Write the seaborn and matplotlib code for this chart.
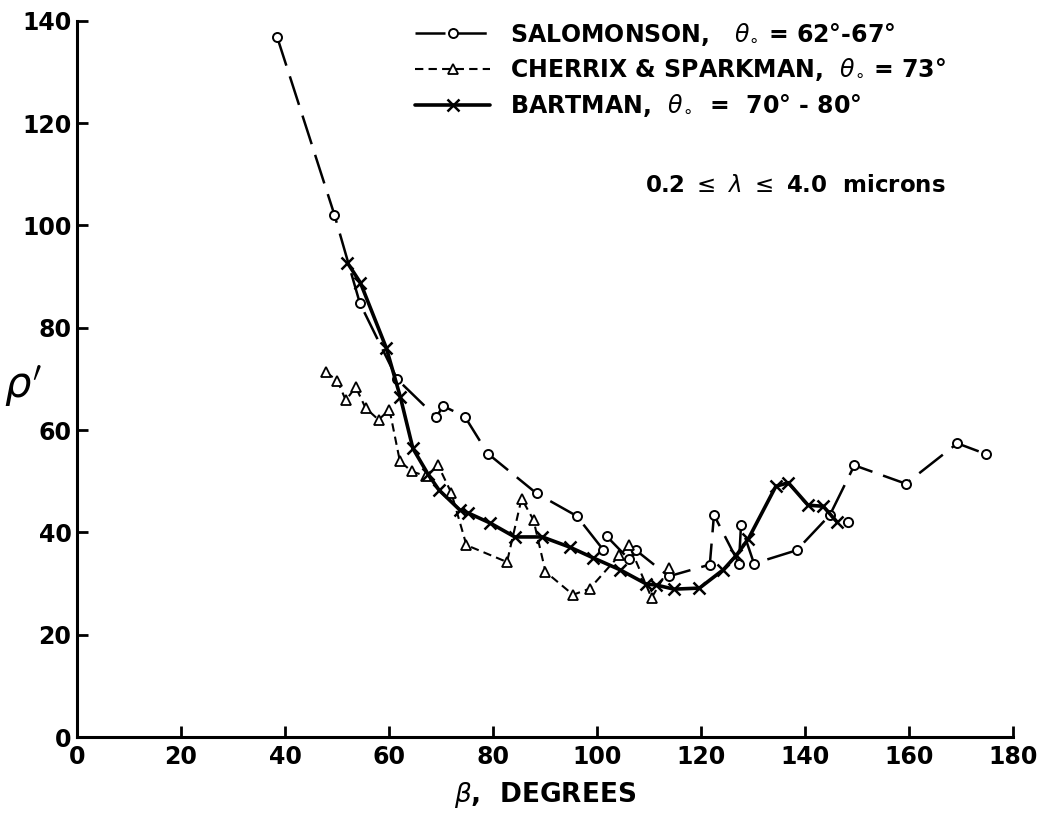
import matplotlib
matplotlib.use("Agg")
import matplotlib.pyplot as plt
import seaborn as sns
import pandas as pd

# Salomonson, theta_0 = 62-67 deg
sal_beta = [38.5, 49.5, 54.4, 61.6, 69.1, 70.4, 74.6, 79.0, 88.4, 96.1,
            101.2, 101.9, 106.2, 107.5, 113.8, 121.7, 122.5, 127.3, 127.7,
            130.2, 138.4, 144.8, 149.5, 159.4, 169.3, 174.8]
sal_rho = [136.8, 102.1, 84.8, 69.9, 62.5, 64.7, 62.6, 55.4, 47.6, 43.2,
           36.6, 39.2, 34.7, 36.5, 31.4, 33.7, 43.4, 33.9, 41.4,
           33.9, 36.5, 43.4, 53.1, 49.5, 57.4, 55.3]
sal_extra_beta = [148.2]
sal_extra_rho = [42.1]

# Cherrix & Sparkman, theta_0 = 73 deg
che_beta = [47.9, 50.1, 51.7, 53.6, 55.5, 58.0, 60.1, 62.1, 64.4, 67.1,
            69.4, 72.0, 74.9, 82.7, 85.5, 87.8, 90.1, 95.4, 98.6, 104.3,
            106.2, 110.5, 113.9]
che_rho = [71.3, 69.6, 65.8, 68.4, 64.3, 62.0, 64.0, 53.9, 51.9, 51.0,
           53.2, 47.7, 37.5, 34.2, 46.6, 42.4, 32.3, 27.8, 29.0, 35.5,
           37.5, 27.2, 33.1]

# Bartman, theta_0 = 70-80 deg
bar_beta = [52.0, 54.5, 59.5, 62.2, 64.6, 67.5, 69.6, 73.6, 75.2, 79.5,
            84.2, 89.5, 94.8, 99.3, 104.4, 109.5, 111.4, 114.8, 119.7,
            124.3, 126.8, 129.1, 134.4, 136.8, 140.6, 143.5, 146.2]
bar_rho = [92.7, 88.8, 76.0, 66.4, 56.4, 51.4, 48.3, 44.4, 43.8, 41.8,
           39.1, 39.1, 37.1, 35.0, 32.7, 29.9, 29.7, 28.9, 29.1,
           32.7, 35.5, 38.7, 49.0, 49.7, 45.3, 45.1, 42.0]

x_ticks = [0, 20, 40, 60, 80, 100, 120, 140, 160, 180]
y_ticks = [0, 20, 40, 60, 80, 100, 120, 140]

sns.set_theme(style="ticks")
plt.rcParams["font.family"] = ["DejaVu Sans"]
plt.rcParams["text.color"] = "black"
plt.rcParams["axes.labelcolor"] = "black"
plt.rcParams["xtick.color"] = "black"
plt.rcParams["ytick.color"] = "black"

fig = plt.figure(figsize=(10.43, 8.15), dpi=100)
ax = fig.add_axes([0.0738, 0.0957, 0.8974, 0.8789])

sal = pd.DataFrame({"beta": sal_beta, "rho": sal_rho})
che = pd.DataFrame({"beta": che_beta, "rho": che_rho})
bar = pd.DataFrame({"beta": bar_beta, "rho": bar_rho})

sns.lineplot(data=sal, x="beta", y="rho", ax=ax, sort=False, estimator=None,
             color="black", linewidth=1.8, linestyle=(0, (12, 4.5)),
             marker="o", markersize=6.5, markerfacecolor="white",
             markeredgecolor="black", markeredgewidth=1.4,
             label=r"SALOMONSON,   $\theta_{\circ}$ = 62°-67°")
sns.scatterplot(x=sal_extra_beta, y=sal_extra_rho, ax=ax, marker="o", s=44,
                facecolor="white", edgecolor="black", linewidth=1.4, zorder=5)
sns.lineplot(data=che, x="beta", y="rho", ax=ax, sort=False, estimator=None,
             color="black", linewidth=1.5, linestyle=(0, (4, 2.5)),
             marker="^", markersize=7, markerfacecolor="white",
             markeredgecolor="black", markeredgewidth=1.3,
             label=r"CHERRIX & SPARKMAN,  $\theta_{\circ}$ = 73°")
sns.lineplot(data=bar, x="beta", y="rho", ax=ax, sort=False, estimator=None,
             color="black", linewidth=2.6, linestyle="-",
             marker="x", markersize=8, markeredgecolor="black",
             markeredgewidth=1.8,
             label=r"BARTMAN,  $\theta_{\circ}$  =  70° - 80°")

ax.set_xlim(0, 180)
ax.set_ylim(0, 140)
ax.set_xticks(x_ticks)
ax.set_yticks(y_ticks)
ax.set_xticklabels([str(t) for t in x_ticks], fontsize=17, fontweight="bold")
ax.set_yticklabels([str(t) for t in y_ticks], fontsize=17, fontweight="bold")
ax.tick_params(axis="both", direction="in", length=8, width=2, colors="black",
               pad=6)
ax.tick_params(axis="y", pad=4)
for side in ("top", "right"):
    ax.spines[side].set_visible(False)
for side in ("left", "bottom"):
    ax.spines[side].set_linewidth(2.2)
    ax.spines[side].set_color("black")

ax.set_xlabel(r"$\beta$,  DEGREES", fontsize=19, fontweight="bold",
              labelpad=8)
ax.set_ylabel(r"$\rho'$", fontsize=30, rotation=0, va="center")
ax.yaxis.set_label_coords(-0.058, 0.49)

leg = ax.legend(loc="upper left", bbox_to_anchor=(0.361, 1.0),
                frameon=False, fontsize=17, handlelength=3.2,
                handletextpad=0.85, labelspacing=0.38, borderpad=0,
                borderaxespad=0, numpoints=1)
for t in leg.get_texts():
    t.set_fontweight("bold")

ax.text(0.767, 0.77, r"0.2 $\leq$ $\lambda$ $\leq$ 4.0  microns",
        transform=ax.transAxes, ha="center", va="center", fontsize=16.5,
        fontweight="bold")

fig.savefig("out.png", dpi=100, facecolor="white")
